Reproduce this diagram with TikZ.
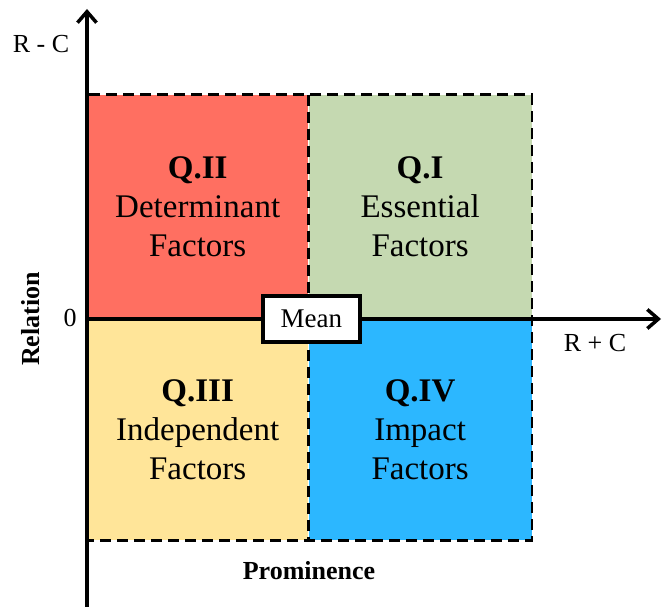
\documentclass[tikz,border=0pt]{standalone}
\usepackage{fontspec}
\setmainfont{Liberation Serif}
\usepackage{xcolor}
\usetikzlibrary{arrows.meta,calc}
\definecolor{qred}{RGB}{255,111,97}
\definecolor{qgreen}{RGB}{197,217,177}
\definecolor{qyellow}{RGB}{255,229,153}
\definecolor{qblue}{RGB}{44,183,255}
\tikzstyle{quad} = [rectangle, inner sep=0pt, minimum width=221pt, minimum height=224pt, align=center, font=\fontsize{33}{39}\selectfont]
\tikzstyle{axis} = [draw, line width=3.5pt, -{Straight Barb[length=11pt,width=19pt,line width=3.5pt]}]
\tikzstyle{border} = [draw, line width=2.6pt, dash pattern=on 11pt off 6pt]
\tikzstyle{lbl} = [font=\fontsize{26}{30}\selectfont]

\begin{document}
\begin{tikzpicture}[x=1pt,y=1pt]
\useasboundingbox (0,0) rectangle (666,607);
% quadrants
\node [quad, fill=qred, anchor=south west] (q2) at (87,288) {\textbf{Q.II}\\Determinant\\Factors};
\node [quad, fill=qgreen, anchor=south west, minimum width=223pt] (q1) at (q2.south east) {\textbf{Q.I}\\Essential\\Factors};
\node [quad, fill=qyellow, anchor=north west, minimum height=221pt] (q3) at (q2.south west) {\textbf{Q.III}\\Independent\\Factors};
\node [quad, fill=qblue, anchor=north west, minimum width=223pt, minimum height=221pt] (q4) at (q3.north east) {\textbf{Q.IV}\\Impact\\Factors};

\path [border] (q2.north west) rectangle (q4.south east);
\path [border] (q2.north east) -- (q4.south west);

% axes
\coordinate (origin) at (87,288);
\coordinate (ybottom) at (87,0);
\coordinate (ytop) at (87,598);
\coordinate (xright) at (661,288);
\path [axis] (ybottom) -- (ytop);
\path [axis] (origin) -- (xright);

\node [draw, fill=white, line width=3.5pt, minimum width=97pt, minimum height=46pt, inner sep=0pt, font=\fontsize{27}{30}\selectfont] (mean) at ($(q2.south east)+(3,0)$) {Mean};

\node [lbl] (rminus) at (41,563) {R - C};
\node [lbl] (zero) at (70,289) {0};
\node [lbl] (rplus) at (595,264) {R + C};
\node [lbl, font=\fontsize{26}{30}\selectfont\bfseries, rotate=90] (relation) at (31,288) {Relation};
\node [lbl, font=\fontsize{26}{30}\selectfont\bfseries] (prominence) at (309,36) {Prominence};
\end{tikzpicture}
\end{document}
